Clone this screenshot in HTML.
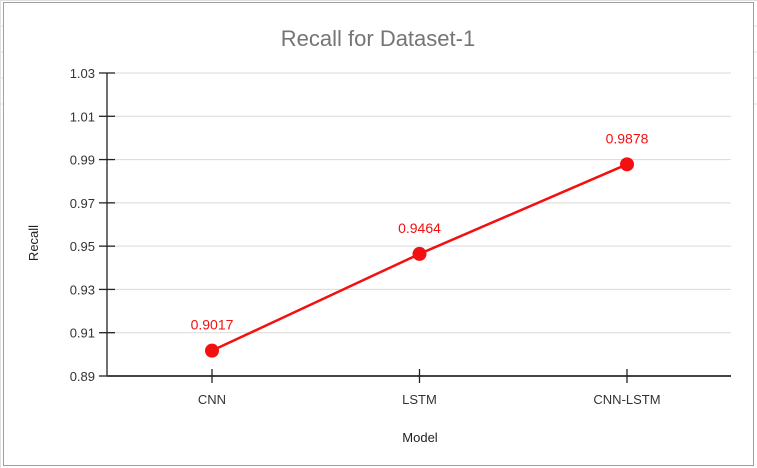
<!DOCTYPE html>
<html><head><meta charset="utf-8"><style>
body{margin:0;background:#fff;}
svg{display:block;font-family:"Liberation Sans",Arial,sans-serif;}
</style></head><body>
<svg width="757" height="468">
<rect x="0" y="0" width="757" height="468" fill="#fff"/>
<g stroke="#e0e0e0">
<line x1="0" y1="0.5" x2="757" y2="0.5"/>
<line x1="0.5" y1="0" x2="0.5" y2="468"/>
<line x1="0" y1="26" x2="3" y2="26"/><line x1="0" y1="52" x2="3" y2="52"/><line x1="0" y1="78" x2="3" y2="78"/><line x1="0" y1="104" x2="3" y2="104"/>
<line x1="754" y1="26" x2="757" y2="26"/><line x1="754" y1="52" x2="757" y2="52"/><line x1="754" y1="78" x2="757" y2="78"/><line x1="754" y1="104" x2="757" y2="104"/>
</g>
<rect x="3.5" y="2.5" width="750" height="463" fill="#fff" stroke="#9e9e9e"/>
<text x="378" y="46" text-anchor="middle" font-size="22" fill="#757575">Recall for Dataset-1</text>
<g id="grid"></g>
<g id="axes"></g>
<g id="marks"></g>
<text x="420" y="442" text-anchor="middle" font-size="13" fill="#222">Model</text>
<text transform="translate(38,243) rotate(-90)" text-anchor="middle" font-size="13" fill="#222">Recall</text>
</svg>
<script>
const categories=["CNN","LSTM","CNN-LSTM"];
const values=[0.9017,0.9464,0.9878];
const labels=["0.9017","0.9464","0.9878"];
const yTicks=[0.89,0.91,0.93,0.95,0.97,0.99,1.01,1.03];
const yTickLabels=["0.89","0.91","0.93","0.95","0.97","0.99","1.01","1.03"];
const NS="http://www.w3.org/2000/svg";
const x0=107,x1=731,yTop=73,yBot=376,yMin=0.89,yMax=1.03;
function y(v){return yBot-(v-yMin)/(yMax-yMin)*(yBot-yTop);}
function x(i){return 212+i*207.5;}
function mk(t,a,p){const e=document.createElementNS(NS,t);for(const k in a)e.setAttribute(k,a[k]);p.appendChild(e);return e;}
const grid=document.getElementById('grid'),axes=document.getElementById('axes'),marks=document.getElementById('marks');
yTicks.forEach((v,i)=>{
 const g=mk('line',{x1:x0,x2:x1,y1:y(v),y2:y(v),stroke:'#d9d9d9','stroke-width':1},grid);
 
 
 const t=mk('line',{x1:x0-8,x2:x0+8,y1:y(v),y2:y(v),stroke:'#222','stroke-width':1.3},axes);
 
 
 const l=mk('text',{x:x0-12,y:y(v)+5,'text-anchor':'end','font-size':13,fill:'#333'},axes);
 l.textContent=yTickLabels[i];
 
 
});
let a=mk('line',{x1:x0,x2:x0,y1:yTop,y2:yBot,stroke:'#222','stroke-width':1.3},axes);


a=mk('line',{x1:x0,x2:x1,y1:yBot,y2:yBot,stroke:'#444','stroke-width':2},axes);


categories.forEach((c,i)=>{
 const t=mk('line',{x1:x(i),x2:x(i),y1:yBot-7,y2:yBot+7,stroke:'#222','stroke-width':1.3},axes);
 
 
 const l=mk('text',{x:x(i),y:yBot+28,'text-anchor':'middle','font-size':13,fill:'#333'},axes);
 l.textContent=c;
 
 
});
const line=mk('polyline',{points:values.map((v,i)=>x(i)+','+y(v)).join(' '),fill:'none',stroke:'#f21010','stroke-width':2.5},marks);


values.forEach((v,i)=>{
 const p=mk('circle',{cx:x(i),cy:y(v),r:7,fill:'#f21010'},marks);
 
 
 const l=mk('text',{x:x(i),y:y(v)-21,'text-anchor':'middle','font-size':14,fill:'#f21010'},marks);
 l.textContent=labels[i];
 
 
});
</script>
</body></html>
